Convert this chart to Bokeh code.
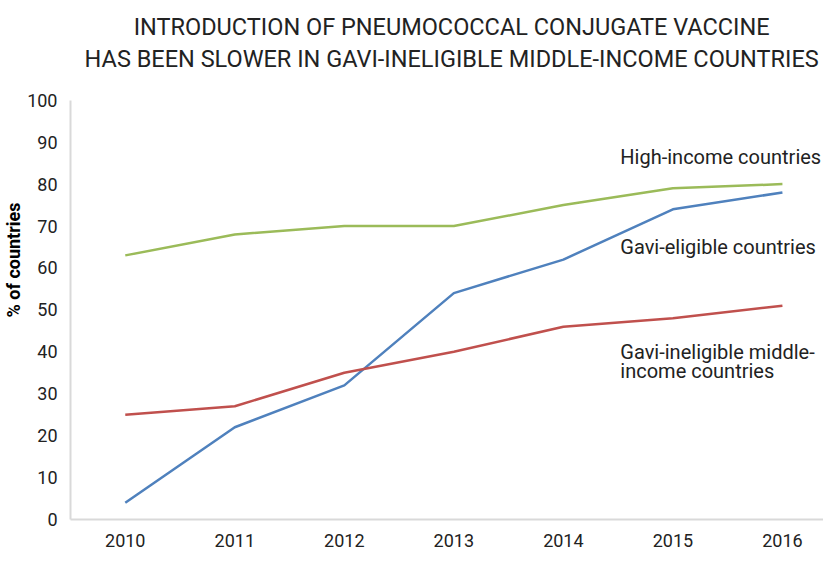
from bokeh.plotting import figure
from bokeh.models import Range1d, FixedTicker, Label
from bokeh.embed import file_html
from bokeh.resources import INLINE

years = [2010, 2011, 2012, 2013, 2014, 2015, 2016]
high_income = [63, 68, 70, 70, 75, 79, 80]
gavi_eligible = [4, 22, 32, 54, 62, 74, 78]
gavi_ineligible = [25, 27, 35, 40, 46, 48, 51]
y_ticks = [0, 10, 20, 30, 40, 50, 60, 70, 80, 90, 100]
title_lines = ["INTRODUCTION OF PNEUMOCOCCAL CONJUGATE VACCINE",
               "HAS BEEN SLOWER IN GAVI-INELIGIBLE MIDDLE-INCOME COUNTRIES"]

FONT = "Roboto"

p = figure(width=823, height=549, output_backend="svg", toolbar_location=None,
           title=None,
           x_range=Range1d(2009.5, 2016.375), y_range=Range1d(0, 123.8),
           min_border_left=53, min_border_right=0, min_border_bottom=29,
           min_border_top=0)

p.outline_line_color = None
p.grid.grid_line_color = None
p.background_fill_color = "white"

p.line(years, high_income, line_color="#9BBB59", line_width=2.5)
p.line(years, gavi_eligible, line_color="#4F81BD", line_width=2.5)
p.line(years, gavi_ineligible, line_color="#C0504D", line_width=2.5)

p.xaxis.ticker = FixedTicker(ticks=years)
p.yaxis.ticker = FixedTicker(ticks=y_ticks)
p.yaxis.bounds = (0, 100)
for ax in (p.xaxis[0], p.yaxis[0]):
    ax.axis_line_color = "#D9D9D9"
    ax.axis_line_width = 2
    ax.major_tick_line_color = None
    ax.minor_tick_line_color = None
    ax.major_label_text_font = FONT
    ax.major_label_text_font_size = "18px"
    ax.major_label_text_color = "#222222"
p.xaxis.major_label_standoff = 8
p.yaxis.major_label_standoff = 7
p.yaxis.axis_label = "% of countries"
p.yaxis.axis_label_text_font = FONT
p.yaxis.axis_label_text_font_style = "bold"
p.yaxis.axis_label_text_font_size = "18px"
p.yaxis.axis_label_text_color = "#000000"
p.yaxis.axis_label_standoff = 0

# title lines, placed above the 0-100 region
for txt, ty in zip(title_lines, [117.5, 109.8]):
    p.add_layout(Label(x=2012.98, y=ty, text=txt, text_font=FONT, text_font_size="23.5px",
                       text_color="#222222", text_baseline="middle", text_align="center"))

labels = [
    ("High-income countries", 2014.52, 86.4),
    ("Gavi-eligible countries", 2014.52, 65.0),
    ("Gavi-ineligible middle-", 2014.52, 39.9),
    ("income countries", 2014.52, 35.4),
]
for txt, lx, ly in labels:
    p.add_layout(Label(x=lx, y=ly, text=txt, text_font=FONT, text_font_size="20px",
                       text_color="#222222", text_baseline="middle", text_align="left"))

open("out.html", "w").write(file_html(p, INLINE))
